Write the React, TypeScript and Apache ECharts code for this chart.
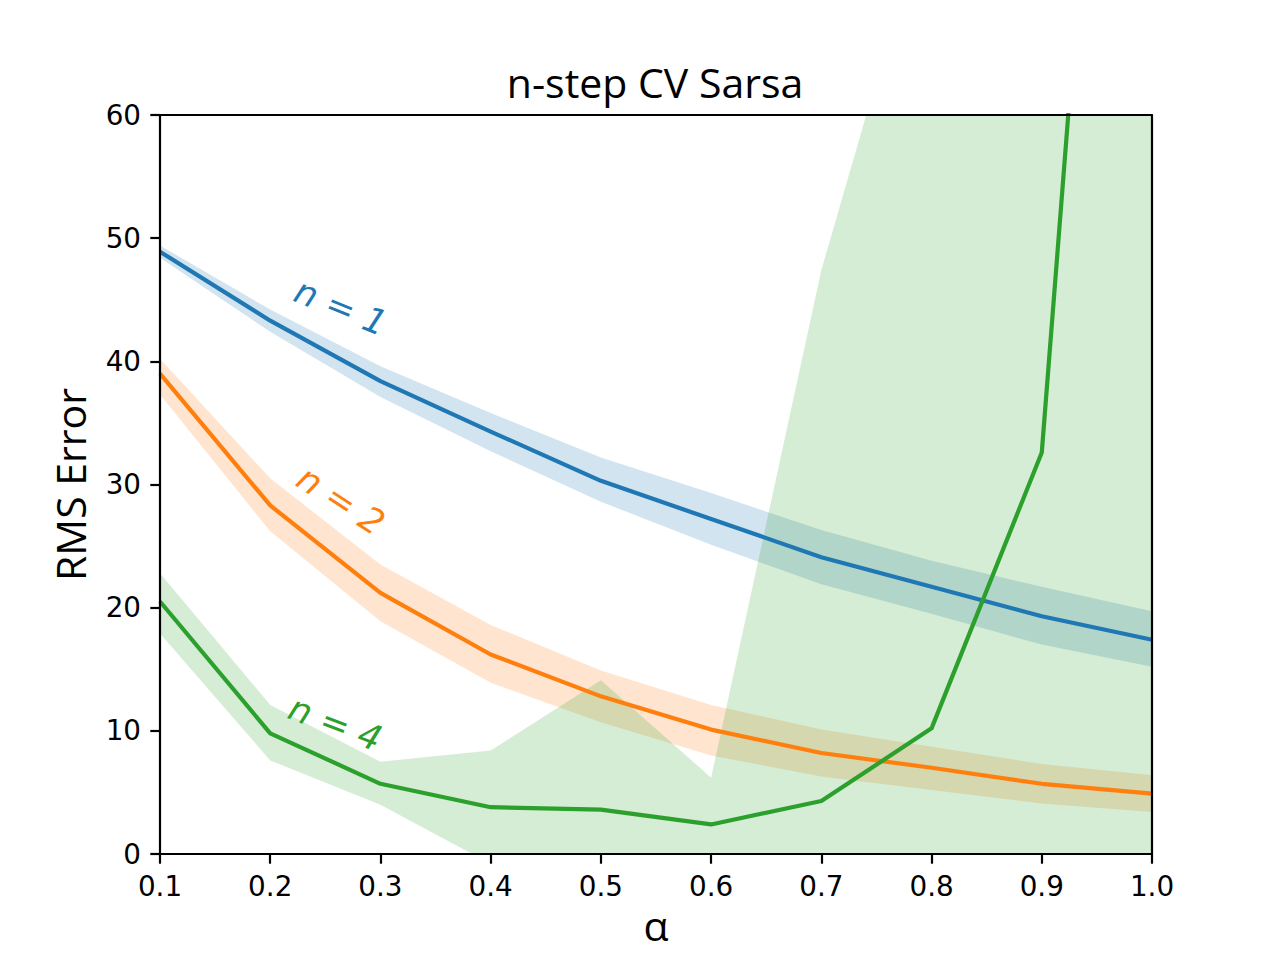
import React, { useEffect, useRef } from "react";
import * as echarts from "echarts";

// ---- data ----
const alphas = [0.1, 0.2, 0.3, 0.4, 0.5, 0.6, 0.7, 0.8, 0.9, 1.0];

const n1Mean = [48.9, 43.3, 38.4, 34.3, 30.3, 27.2, 24.1, 21.7, 19.3, 17.4];
const n1Upper = [49.4, 44.2, 39.6, 35.8, 32.2, 29.3, 26.3, 23.8, 21.7, 19.7];
const n1Lower = [48.4, 42.4, 37.1, 32.7, 28.6, 25.1, 21.9, 19.5, 17.0, 15.2];

const n2Mean = [39.0, 28.3, 21.2, 16.2, 12.8, 10.1, 8.2, 7.0, 5.7, 4.9];
const n2Upper = [40.2, 30.5, 23.5, 18.6, 14.9, 12.1, 10.1, 8.7, 7.3, 6.4];
const n2Lower = [37.3, 26.2, 18.9, 13.9, 10.7, 8.0, 6.3, 5.2, 4.1, 3.4];

const n4Mean = [20.5, 9.8, 5.7, 3.8, 3.6, 2.4, 4.3, 10.2, 32.6, 146.7];
const n4Upper = [22.8, 12.1, 7.5, 8.4, 14.1, 6.2, 47.4, 78.3, 200, 400];
const n4Lower = [17.9, 7.6, 4.0, -0.8, -6.9, -1.4, -38.8, -57.9, -135, -107];

const xTicks = [0.1, 0.2, 0.3, 0.4, 0.5, 0.6, 0.7, 0.8, 0.9, 1.0];
const yTicks = [0, 10, 20, 30, 40, 50, 60];

const labelTexts = ["n = 1", "n = 2", "n = 4"];
const labelAlpha = [0.264, 0.264, 0.259];
const labelValue = [44.4, 28.7, 10.6];
const labelAngleDeg = [22, 33, 21];

const BLUE = "#1f77b4";
const ORANGE = "#ff7f0e";
const GREEN = "#2ca02c";

const TICK_FONT = "DejaVu Sans";
const TITLE_FONT = "Open Sans";

function bandSeries(upper: number[], lower: number[], fill: string) {
  return {
    type: "custom",
    coordinateSystem: "cartesian2d",
    silent: true,
    clip: true,
    z: 1,
    data: [[alphas[0], lower[0]]],
    encode: { x: 0, y: 1 },
    renderItem: (params: any, api: any) => {
      const pts: number[][] = [];
      for (let i = 0; i < alphas.length; i++) pts.push(api.coord([alphas[i], upper[i]]));
      for (let i = alphas.length - 1; i >= 0; i--) pts.push(api.coord([alphas[i], lower[i]]));
      const cs = params.coordSys;
      return {
        type: "polygon",
        shape: { points: pts },
        style: { fill },
        clipPath: {
          type: "rect",
          shape: { x: cs.x, y: cs.y, width: cs.width, height: cs.height },
        },
      };
    },
  };
}

function lineSeries(mean: number[], color: string, z: number) {
  return {
    type: "line",
    data: alphas.map((a, i) => [a, mean[i]]),
    showSymbol: false,
    symbol: "none",
    clip: true,
    z,
    lineStyle: { color, width: 4.2, join: "round", cap: "butt" },
    itemStyle: { color },
  };
}

const labelColors = [BLUE, ORANGE, GREEN];

const labelSeries = {
  type: "custom",
  coordinateSystem: "cartesian2d",
  silent: true,
  z: 5,
  data: labelTexts.map((_, i) => [labelAlpha[i], labelValue[i]]),
  encode: { x: 0, y: 1 },
  renderItem: (params: any, api: any) => {
    const i = params.dataIndex;
    const p = api.coord([api.value(0), api.value(1)]);
    return {
      type: "text",
      x: p[0],
      y: p[1],
      rotation: (-labelAngleDeg[i] * Math.PI) / 180,
      style: {
        text: labelTexts[i],
        fill: labelColors[i],
        fontFamily: TICK_FONT,
        fontStyle: "italic",
        fontSize: 35,
        align: "center",
        verticalAlign: "middle",
        textAlign: "center",
        textVerticalAlign: "middle",
      },
    };
  },
};

const axisLineStyle = { color: "#000", width: 2.2 };

export default function App() {
  const ref = useRef<HTMLDivElement>(null);
  useEffect(() => {
    document.body.style.margin = "0";
    if (!ref.current) return;
    const chart = echarts.init(ref.current, null, { renderer: "svg" });
    chart.setOption({
      animation: false,
      backgroundColor: "#fff",
      grid: { left: 160, right: 128, top: 115, bottom: 106, containLabel: false },
      title: {
        text: "n-step CV Sarsa",
        left: 650,
        top: 56,
        textAlign: "center",
        textStyle: {
          fontFamily: TITLE_FONT,
          fontSize: 41,
          fontWeight: "normal",
          color: "#000",
        },
      },
      xAxis: [
        {
          type: "value",
          position: "bottom",
          min: 0.1,
          max: 1.0,
          interval: 0.1,
          z: 10,
          name: "α",
          nameLocation: "middle",
          nameGap: 49,
          nameTextStyle: { fontFamily: TITLE_FONT, fontSize: 41, color: "#000" },
          splitLine: { show: false },
          axisLine: { show: true, onZero: false, lineStyle: axisLineStyle },
          axisTick: { show: true, inside: false, length: 9.7, lineStyle: axisLineStyle },
          axisLabel: {
            show: true,
            margin: 18,
            fontFamily: TICK_FONT,
            fontSize: 27.8,
            color: "#000",
            formatter: (v: number) => {
              const t = xTicks.find((x) => Math.abs(x - v) < 1e-6);
              return t === undefined ? "" : t.toFixed(1);
            },
          },
        },
        {
          type: "value",
          position: "top",
          min: 0.1,
          max: 1.0,
          interval: 0.1,
          z: 10,
          splitLine: { show: false },
          axisLine: { show: true, onZero: false, lineStyle: axisLineStyle },
          axisTick: { show: false },
          axisLabel: { show: false },
        },
      ],
      yAxis: [
        {
          type: "value",
          position: "left",
          min: 0,
          max: 60,
          interval: 10,
          z: 10,
          name: "RMS Error",
          nameLocation: "middle",
          nameGap: 70,
          nameRotate: 90,
          nameTextStyle: { fontFamily: TITLE_FONT, fontSize: 41, color: "#000" },
          splitLine: { show: false },
          axisLine: { show: true, onZero: false, lineStyle: axisLineStyle },
          axisTick: { show: true, inside: false, length: 9.7, lineStyle: axisLineStyle },
          axisLabel: {
            show: true,
            margin: 19,
            fontFamily: TICK_FONT,
            fontSize: 27.8,
            color: "#000",
            formatter: (v: number) => (yTicks.includes(v) ? String(v) : ""),
          },
        },
        {
          type: "value",
          position: "right",
          min: 0,
          max: 60,
          interval: 10,
          z: 10,
          splitLine: { show: false },
          axisLine: { show: true, onZero: false, lineStyle: axisLineStyle },
          axisTick: { show: false },
          axisLabel: { show: false },
        },
      ],
      series: [
        bandSeries(n1Upper, n1Lower, "rgba(31,119,180,0.2)"),
        bandSeries(n2Upper, n2Lower, "rgba(255,127,14,0.2)"),
        bandSeries(n4Upper, n4Lower, "rgba(44,160,44,0.2)"),
        lineSeries(n1Mean, BLUE, 3),
        lineSeries(n2Mean, ORANGE, 3),
        lineSeries(n4Mean, GREEN, 4),
        labelSeries,
      ],
    });
    return () => chart.dispose();
  }, []);
  return <div ref={ref} style={{ width: 1280, height: 960 }} />;
}
